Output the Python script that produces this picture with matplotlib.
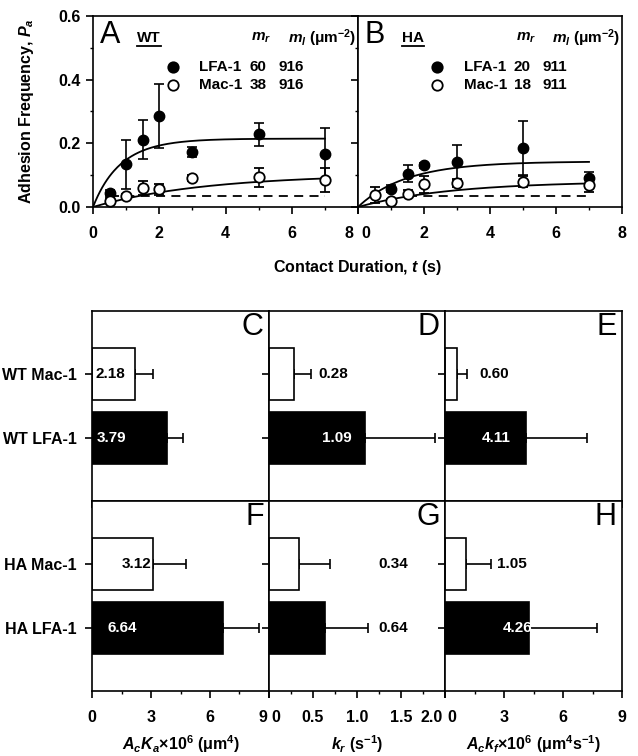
import numpy as np
import matplotlib
matplotlib.use('Agg')
import matplotlib.pyplot as plt
from matplotlib.lines import Line2D
from matplotlib.ticker import MultipleLocator
from matplotlib.transforms import ScaledTranslation

plt.rcParams['font.family'] = ['Liberation Sans', 'DejaVu Sans']
plt.rcParams['font.weight'] = 'bold'
plt.rcParams['axes.labelweight'] = 'bold'
plt.rcParams['font.size'] = 11
plt.rcParams['mathtext.fontset'] = 'custom'
plt.rcParams['mathtext.rm'] = 'Liberation Sans:bold'
plt.rcParams['mathtext.it'] = 'Liberation Sans:bold:italic'
plt.rcParams['mathtext.bf'] = 'Liberation Sans:bold'
plt.rcParams['axes.linewidth'] = 1.2

# adhesion frequency vs contact time
t_wt = [0.5, 1, 1.5, 2, 3, 5, 7]
wt_lfa = [0.044, 0.134, 0.212, 0.285, 0.173, 0.229, 0.168]
wt_lfa_err = [0.008, 0.078, 0.060, 0.100, 0.015, 0.036, 0.080]
wt_mac = [0.019, 0.034, 0.060, 0.055, 0.091, 0.094, 0.084]
wt_mac_err = [0.008, 0.006, 0.022, 0.017, 0.010, 0.030, 0.038]

t_ha_lfa = [1, 1.5, 2, 3, 5, 7]
ha_lfa = [0.058, 0.105, 0.131, 0.140, 0.186, 0.091]
ha_lfa_err = [0.010, 0.028, 0.008, 0.055, 0.085, 0.020]
t_ha_mac = [0.5, 1, 1.5, 2, 3, 5, 7]
ha_mac = [0.037, 0.019, 0.042, 0.071, 0.076, 0.079, 0.070]
ha_mac_err = [0.025, 0.006, 0.012, 0.027, 0.012, 0.017, 0.024]

# site densities (um^-2), order: LFA-1, Mac-1
mr_wt = [60, 38]
ml_wt = [916, 916]
mr_ha = [20, 18]
ml_ha = [911, 911]
p_nonspecific = 0.033

# kinetic parameters, order: Mac-1, LFA-1
ac_ka_wt = [2.18, 3.79]
ac_ka_wt_err = [0.91, 0.82]
kr_wt = [0.28, 1.09]
kr_wt_err = [0.20, 0.80]
ac_kf_wt = [0.60, 4.11]
ac_kf_wt_err = [0.50, 3.11]

ac_ka_ha = [3.12, 6.64]
ac_ka_ha_err = [1.64, 1.86]
kr_ha = [0.34, 0.64]
kr_ha_err = [0.35, 0.49]
ac_kf_ha = [1.05, 4.26]
ac_kf_ha_err = [1.29, 3.45]

labels_wt = ['WT Mac-1', 'WT LFA-1']
labels_ha = ['HA Mac-1', 'HA LFA-1']


def fit_curve(t, mr, ml, acka, kr):
    # probabilistic adhesion model, nonspecific part included
    n_ns = -np.log(1 - p_nonspecific)
    n = (mr * ml * acka * 1e-6 + n_ns) * (1 - np.exp(-kr * t))
    return 1 - np.exp(-n)


def bold_ticks(ax):
    for lab in ax.get_xticklabels() + ax.get_yticklabels():
        lab.set_fontweight('bold')


fig = plt.figure(figsize=(6.38, 7.56), dpi=100)

W, H = 638.0, 756.0
ax_a = fig.add_axes([93 / W, 1 - 207 / H, 265 / W, 191 / H])
ax_b = fig.add_axes([358 / W, 1 - 207 / H, 264 / W, 191 / H])

tt = np.linspace(0, 7, 200)
panels = [
    (ax_a, 'A', 'WT', t_wt, wt_lfa, wt_lfa_err, t_wt, wt_mac, wt_mac_err,
     mr_wt, ml_wt, ac_ka_wt, kr_wt, 0.5),
    (ax_b, 'B', 'HA', t_ha_lfa, ha_lfa, ha_lfa_err, t_ha_mac, ha_mac, ha_mac_err,
     mr_ha, ml_ha, ac_ka_ha, kr_ha, 1.5),
]
underlined = []
for (ax, letter, name, tl, yl, el, tm, ym, em, mr, ml, acka, kr, ns0) in panels:
    ax.plot(tt, fit_curve(tt, mr[0], ml[0], acka[1], kr[1]), color='black', lw=1.3, zorder=2)
    ax.plot(tt, fit_curve(tt, mr[1], ml[1], acka[0], kr[0]), color='black', lw=1.3, zorder=2)
    ax.plot([ns0, 7], [p_nonspecific, p_nonspecific], color='black', lw=1.3,
            dashes=(5, 3.5), zorder=2)
    ax.errorbar(tl, yl, yerr=el, fmt='o', color='black', ms=7.5, mfc='black', mec='black',
                elinewidth=1.2, capsize=3.5, capthick=1.2, zorder=4)
    ax.errorbar(tm, ym, yerr=em, fmt='o', color='black', ms=7.5, mfc='white', mec='black',
                mew=1.3, elinewidth=1.2, capsize=3.5, capthick=1.2, zorder=5)
    ax.set_xlim(0, 8)
    ax.set_ylim(0, 0.6)
    ax.set_xticks([0, 2, 4, 6, 8])
    ax.set_yticks([0, 0.2, 0.4, 0.6])
    ax.xaxis.set_minor_locator(MultipleLocator(1))
    ax.yaxis.set_minor_locator(MultipleLocator(0.1))
    ax.tick_params(which='major', direction='out', length=5, width=1.2, labelsize=11.5)
    ax.tick_params(which='minor', direction='out', length=2.5, width=1.0)
    ax.tick_params(axis='x', pad=9)
    ax.tick_params(axis='y', pad=4)

    ax.text(0.025, 0.90, letter, transform=ax.transAxes, fontsize=22, fontweight='normal',
            ha='left', va='center')
    underlined.append(ax.text(0.166, 0.885, name, transform=ax.transAxes,
                              ha='left', va='center'))
    ax.text(0.636, 0.885, r'$m_r$', transform=ax.transAxes, ha='center', va='center')
    ax.text(0.736, 0.885, r'$m_l$ (μm$^{-2}$)', transform=ax.transAxes,
            ha='left', va='center')
    rows = [('LFA-1', 'black', mr[0], ml[0], 0.733), ('Mac-1', 'white', mr[1], ml[1], 0.640)]
    for lab, fc, m1, m2, y in rows:
        ax.plot([0.30], [y], 'o', ms=7.5, mfc=fc, mec='black', mew=1.3,
                transform=ax.transAxes, clip_on=False)
        ax.text(0.40, y, lab, transform=ax.transAxes, ha='left', va='center')
        ax.text(0.59, y, str(m1), transform=ax.transAxes, ha='left', va='center')
        ax.text(0.70, y, str(m2), transform=ax.transAxes, ha='left', va='center')

ax_a.set_yticklabels(['0.0', '0.2', '0.4', '0.6'])
ax_b.set_yticklabels([])
for ax in (ax_a, ax_b):
    ax.set_xticklabels(['0', '2', '4', '6', '8'])
    bold_ticks(ax)
ax_a.set_ylabel('Adhesion Frequency, $P_a$', fontsize=11.5)
ax_a.yaxis.set_label_coords(-0.215, 0.5)
fig.text(358 / W, 1 - 268 / H, 'Contact Duration, $t$ (s)', ha='center', va='center',
         fontsize=11.5)

# kinetic parameter bar panels
cols = [(92, 177), (269, 176), (445, 177)]
rows_px = [501, 691]
bar_data = [
    [(ac_ka_wt, ac_ka_wt_err), (kr_wt, kr_wt_err), (ac_kf_wt, ac_kf_wt_err)],
    [(ac_ka_ha, ac_ka_ha_err), (kr_ha, kr_ha_err), (ac_kf_ha, ac_kf_ha_err)],
]
letters = [['C', 'D', 'E'], ['F', 'G', 'H']]
xticks = [[0, 3, 6, 9], [0, 0.5, 1.0, 1.5, 2.0], [0, 3, 6, 9]]
xticklabels = [['0', '3', '6', '9'], ['0', '0.5', '1.0', '1.5', '2.0'], ['0', '3', '6', '9']]
xlabels = [r'$A_cK_a$×10$^6$ (μm$^4$)', r'$k_r$ (s$^{-1}$)',
           r'$A_ck_f$×10$^6$ (μm$^4$s$^{-1}$)']
# number placement (x in data units, alignment, colour) for Mac-1 and LFA-1
text_pos = [
    [[(0.2, 'left', 'black'), (0.25, 'left', 'white')],
     [(0.56, 'left', 'black'), (0.94, 'right', 'white')],
     [(1.73, 'left', 'black'), (3.34, 'right', 'white')]],
    [[(3.02, 'right', 'black'), (0.8, 'left', 'white')],
     [(1.24, 'left', 'black'), (1.24, 'left', 'black')],
     [(2.64, 'left', 'black'), (4.45, 'right', 'white')]],
]
ypos = [2, 1]
bottom_axes = []
for r in range(2):
    for c in range(3):
        x0, w = cols[c]
        ax = fig.add_axes([x0 / W, 1 - rows_px[r] / H, w / W, 190 / H])
        vals, errs = bar_data[r][c]
        ax.barh(ypos, vals, height=0.82, color=['white', 'black'], edgecolor='black',
                linewidth=1.2, zorder=2)
        ax.errorbar(vals, ypos, xerr=[[0, 0], errs], fmt='none', ecolor='black',
                    elinewidth=1.2, capsize=3.5, capthick=1.2, zorder=1)
        for i in range(2):
            px, ha, fc = text_pos[r][c][i]
            ax.text(px, ypos[i], f'{vals[i]:.2f}', ha=ha, va='center', color=fc, zorder=3)
        ax.set_xlim(xticks[c][0], xticks[c][-1])
        ax.set_ylim(0, 3)
        ax.set_xticks(xticks[c])
        ax.xaxis.set_minor_locator(MultipleLocator(xticks[c][1] / 2))
        ax.set_yticks(ypos)
        ax.tick_params(which='major', direction='out', length=5, width=1.2, labelsize=11.5)
        ax.tick_params(which='minor', direction='out', length=2.5, width=1.0)
        ax.tick_params(axis='x', pad=9)
        ax.tick_params(axis='y', pad=6)
        if c == 0:
            ax.set_yticklabels(labels_wt if r == 0 else labels_ha)
        else:
            ax.set_yticklabels([])
        if r == 0:
            ax.set_xticklabels([])
        else:
            ax.set_xticklabels(xticklabels[c])
            ax.set_xlabel(xlabels[c], fontsize=11.5, labelpad=6)
            bottom_axes.append(ax)
        bold_ticks(ax)
        ax.text(0.97, 0.995, letters[r][c], transform=ax.transAxes, fontsize=22,
                fontweight='normal', ha='right', va='top')

fig.canvas.draw()


def nudge(label, ha, dx):
    # keep labels on shared panel edges from running into each other
    label.set_ha(ha)
    label.set_transform(label.get_transform() +
                        ScaledTranslation(dx / 72, 0, fig.dpi_scale_trans))


nudge(ax_a.xaxis.get_major_ticks()[-1].label1, 'right', -3)
nudge(ax_b.xaxis.get_major_ticks()[0].label1, 'left', 2.5)
for k, ax in enumerate(bottom_axes):
    ticks = ax.xaxis.get_major_ticks()
    if k > 0:
        nudge(ticks[0].label1, 'left', 1.5)
    if k < 2:
        nudge(ticks[-1].label1, 'right', -1.5)

# underline the group names
inv = fig.transFigure.inverted()
for txt in underlined:
    bb = txt.get_window_extent()
    (fx0, fy0), (fx1, _) = inv.transform([(bb.x0, bb.y0 - 1.5), (bb.x1, bb.y0)])
    fig.add_artist(Line2D([fx0, fx1], [fy0, fy0], color='black', lw=1.3,
                          transform=fig.transFigure))

fig.savefig('out.png', dpi=100)
